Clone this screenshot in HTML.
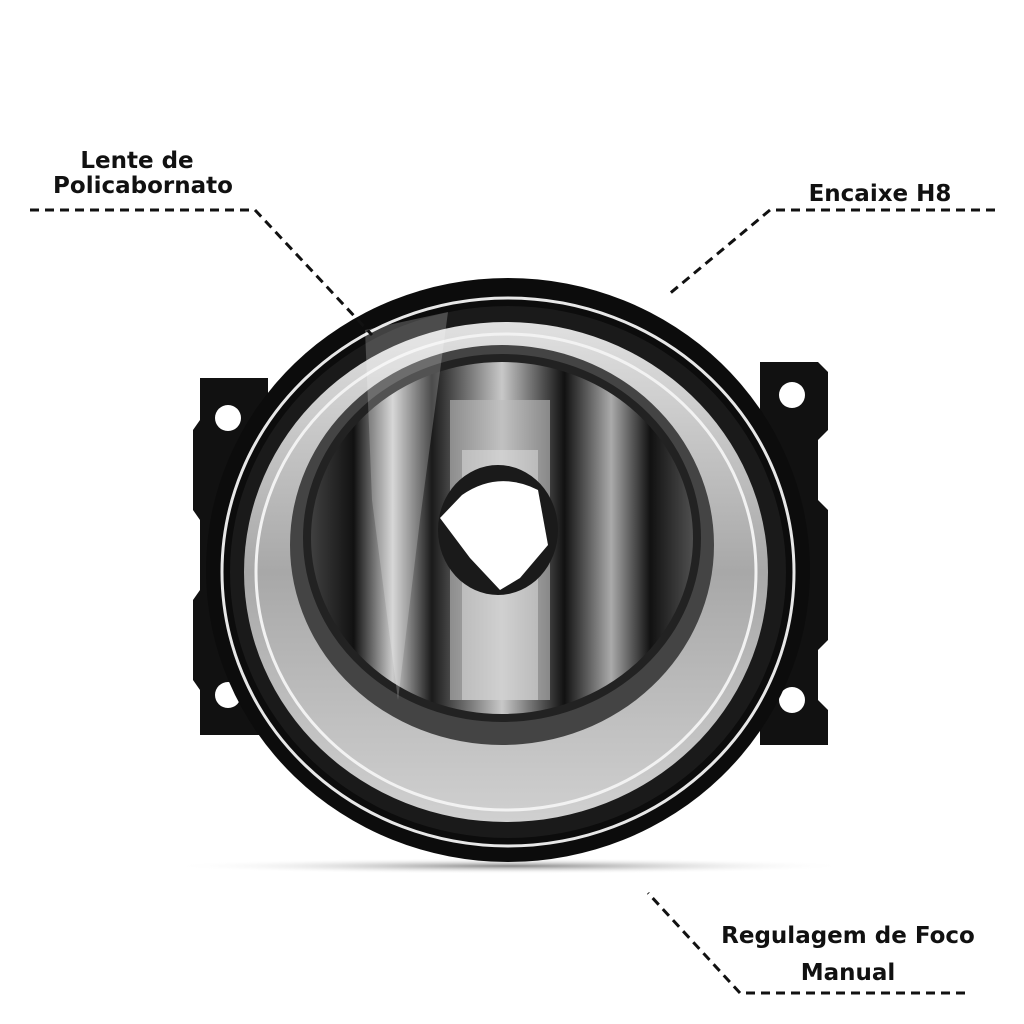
<!DOCTYPE html>
<html><head><meta charset="utf-8"><style>
html,body{margin:0;padding:0;background:#fff;width:1024px;height:1024px;overflow:hidden}
svg{display:block}
text{font-family:"DejaVu Sans","Liberation Sans",sans-serif;font-weight:bold;fill:#111}
</style></head><body>
<svg width="1024" height="1024" viewBox="0 0 1024 1024" xmlns="http://www.w3.org/2000/svg">
<defs>
<radialGradient id="shadow" cx="0.5" cy="0.5" r="0.5">
<stop offset="0" stop-color="#888"/><stop offset="1" stop-color="#fff" stop-opacity="0"/>
</radialGradient>
<linearGradient id="ring" x1="0" y1="0" x2="0" y2="1">
<stop offset="0" stop-color="#e0e0e0"/><stop offset="0.5" stop-color="#a8a8a8"/><stop offset="1" stop-color="#d0d0d0"/>
</linearGradient>
<linearGradient id="refl" x1="0" y1="0" x2="1" y2="0">
<stop offset="0" stop-color="#444"/><stop offset="0.12" stop-color="#111"/><stop offset="0.22" stop-color="#ccc"/><stop offset="0.32" stop-color="#1a1a1a"/><stop offset="0.5" stop-color="#c8c8c8"/><stop offset="0.66" stop-color="#111"/><stop offset="0.78" stop-color="#aaa"/><stop offset="0.88" stop-color="#111"/><stop offset="1" stop-color="#555"/>
</linearGradient>
</defs>
<ellipse cx="510" cy="866" rx="340" ry="8" fill="url(#shadow)"/>
<path d="M200 378 H268 V735 H200 V690 L193 680 V600 L200 590 V520 L193 510 V430 L200 420 Z" fill="#111"/>
<path d="M760 362 H818 L828 372 V430 L818 440 V500 L828 510 V640 L818 650 V700 L828 710 V745 H760 Z" fill="#111"/>
<circle cx="228" cy="418" r="13" fill="#fff"/>
<circle cx="228" cy="695" r="13" fill="#fff"/>
<circle cx="792" cy="395" r="13" fill="#fff"/>
<circle cx="792" cy="700" r="13" fill="#fff"/>
<ellipse cx="508" cy="570" rx="302" ry="292" fill="#0c0c0c"/>
<ellipse cx="508" cy="572" rx="286" ry="274" fill="none" stroke="#e8e8e8" stroke-width="3"/>
<ellipse cx="508" cy="572" rx="278" ry="266" fill="#1a1a1a"/>
<ellipse cx="506" cy="572" rx="262" ry="250" fill="url(#ring)"/>
<ellipse cx="506" cy="572" rx="250" ry="238" fill="none" stroke="#f2f2f2" stroke-width="3"/>
<ellipse cx="502" cy="545" rx="212" ry="200" fill="#444"/>
<ellipse cx="502" cy="538" rx="195" ry="180" fill="url(#refl)"/>
<ellipse cx="502" cy="538" rx="195" ry="180" fill="none" stroke="#222" stroke-width="8"/>
<path d="M450 400 H550 V700 H450 Z" fill="#bdbdbd" opacity="0.6"/>
<path d="M462 450 H538 V700 H462 Z" fill="#e0e0e0" opacity="0.5"/>
<ellipse cx="498" cy="530" rx="60" ry="65" fill="#1a1a1a"/>
<path d="M462 495 Q498 470 538 490 L548 545 L520 578 L500 590 L470 558 L440 518 Z" fill="#fff"/>
<path d="M365 330 L448 312 L420 520 L398 700 L372 500 Z" fill="#fff" opacity="0.22"/>
<text x="137" y="168" font-size="23" text-anchor="middle">Lente de</text>
<text x="143" y="193" font-size="23" text-anchor="middle">Policabornato</text>
<text x="880" y="201" font-size="23" text-anchor="middle">Encaixe H8</text>
<text x="848" y="943" font-size="23" text-anchor="middle">Regulagem de Foco</text>
<text x="848" y="980" font-size="23" text-anchor="middle">Manual</text>
<g fill="none" stroke="#111" stroke-width="3" stroke-dasharray="9 6">
<path d="M30 210 H255 L372 335"/>
<path d="M995 210 H770 L668 295"/>
<path d="M965 993 H740 L648 893"/>
</g>
</svg>
</body></html>
